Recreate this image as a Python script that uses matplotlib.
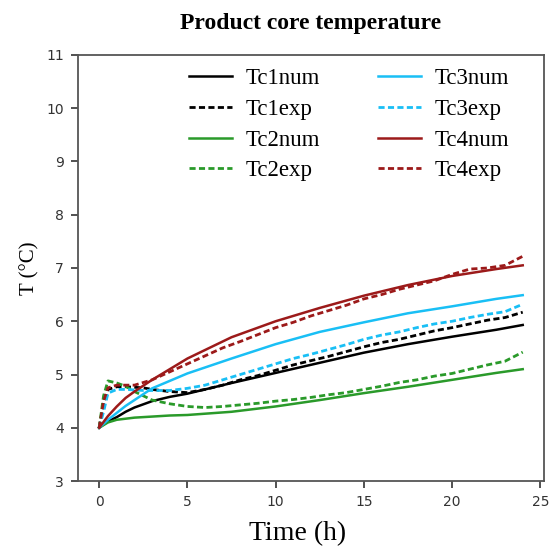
import numpy as np
import matplotlib
matplotlib.use("Agg")
import matplotlib.pyplot as plt

# model curves (h, degC)
t_num = [0, 0.5, 1, 1.5, 2, 3, 4, 5, 7.5, 10, 12.5, 15, 17.5, 20, 22.5, 24]
tc1_num = [4.0, 4.12, 4.2, 4.3, 4.38, 4.5, 4.58, 4.64, 4.84, 5.03, 5.22, 5.41, 5.57, 5.71, 5.84, 5.93]
tc2_num = [4.0, 4.1, 4.15, 4.17, 4.19, 4.21, 4.23, 4.24, 4.3, 4.4, 4.52, 4.65, 4.77, 4.9, 5.03, 5.1]
tc3_num = [4.0, 4.15, 4.28, 4.41, 4.52, 4.74, 4.88, 5.02, 5.3, 5.57, 5.8, 5.98, 6.15, 6.28, 6.42, 6.49]
tc4_num = [4.0, 4.22, 4.4, 4.56, 4.68, 4.9, 5.1, 5.3, 5.7, 6.0, 6.25, 6.48, 6.68, 6.85, 6.98, 7.05]

# measured curves
t_exp = [0, 0.25, 0.5, 1, 1.5, 2, 2.5, 3, 4, 5, 6, 7, 8, 9, 10, 11, 12,
         13, 14, 15, 16, 17, 18, 19, 20, 21, 22, 23, 24]
tc1_exp = [4.0, 4.45, 4.72, 4.77, 4.77, 4.76, 4.75, 4.72, 4.68, 4.66, 4.72, 4.8, 4.9, 4.98,
           5.08, 5.18, 5.26, 5.34, 5.43, 5.52, 5.6, 5.66, 5.74, 5.82, 5.88, 5.95, 6.02, 6.07, 6.17]
tc2_exp = [4.0, 4.6, 4.88, 4.84, 4.78, 4.68, 4.6, 4.52, 4.45, 4.4, 4.38, 4.4, 4.43, 4.46,
           4.5, 4.53, 4.57, 4.62, 4.66, 4.72, 4.78, 4.85, 4.9, 4.97, 5.02, 5.1, 5.18, 5.25, 5.42]
tc3_exp = [4.0, 4.3, 4.65, 4.72, 4.72, 4.71, 4.7, 4.7, 4.7, 4.74, 4.8, 4.9, 5.0, 5.1,
           5.2, 5.3, 5.38, 5.47, 5.56, 5.66, 5.74, 5.8, 5.88, 5.95, 6.0, 6.07, 6.13, 6.18, 6.32]
tc4_exp = [4.0, 4.5, 4.75, 4.8, 4.8, 4.8, 4.85, 4.9, 5.05, 5.2, 5.35, 5.5, 5.62, 5.75,
           5.88, 5.98, 6.1, 6.2, 6.3, 6.42, 6.5, 6.6, 6.68, 6.76, 6.88, 6.98, 7.0, 7.05, 7.22]

colors = ["black", "#2a9a2a", "#19bff5", "#9c1a1a"]
serif = "Liberation Serif"

fig = plt.figure(figsize=(5.55, 5.52), dpi=100)
ax = fig.add_axes([0.1405, 0.1286, 0.8395, 0.7718])

series = [(tc1_num, tc1_exp), (tc2_num, tc2_exp), (tc3_num, tc3_exp), (tc4_num, tc4_exp)]
handles = []
for i, (num, exp) in enumerate(series):
    h1, = ax.plot(t_num, num, color=colors[i], lw=1.8, label=f"Tc{i+1}num")
    h2, = ax.plot(t_exp, exp, color=colors[i], lw=2, ls="--", dashes=(2.2, 1.2),
                  label=f"Tc{i+1}exp")
    handles += [h1, h2]

ax.set_xlim(-1.2, 25.2)
ax.set_ylim(3, 11)
ax.set_xticks([0, 5, 10, 15, 20, 25])
ax.set_yticks(range(3, 12))
ax.tick_params(labelsize=10, colors="#333333", length=5, width=1.2, pad=5)
for s in ax.spines.values():
    s.set_color("#555555")
    s.set_linewidth(1.3)

ax.set_xlabel("Time (h)", fontsize=20, family=serif)
ax.xaxis.set_label_coords((298 - 78) / 466, -0.094)
ax.set_ylabel("T (°C)", fontsize=15, family=serif)
ax.yaxis.set_label_coords(-0.082, 0.5)
fig.text(0.560, 0.957, "Product core temperature", ha="center", va="center",
         fontsize=17, fontweight="bold", family=serif)

ax.legend(handles=handles, ncol=2, loc="upper left", bbox_to_anchor=(0.341, 0.876),
          bbox_transform=fig.transFigure, frameon=False, borderpad=0, borderaxespad=0,
          handlelength=1.88, handletextpad=0.6, columnspacing=2.5, labelspacing=0.42,
          prop={"family": serif, "size": 16.5})

fig.savefig("out.png", dpi=100)
